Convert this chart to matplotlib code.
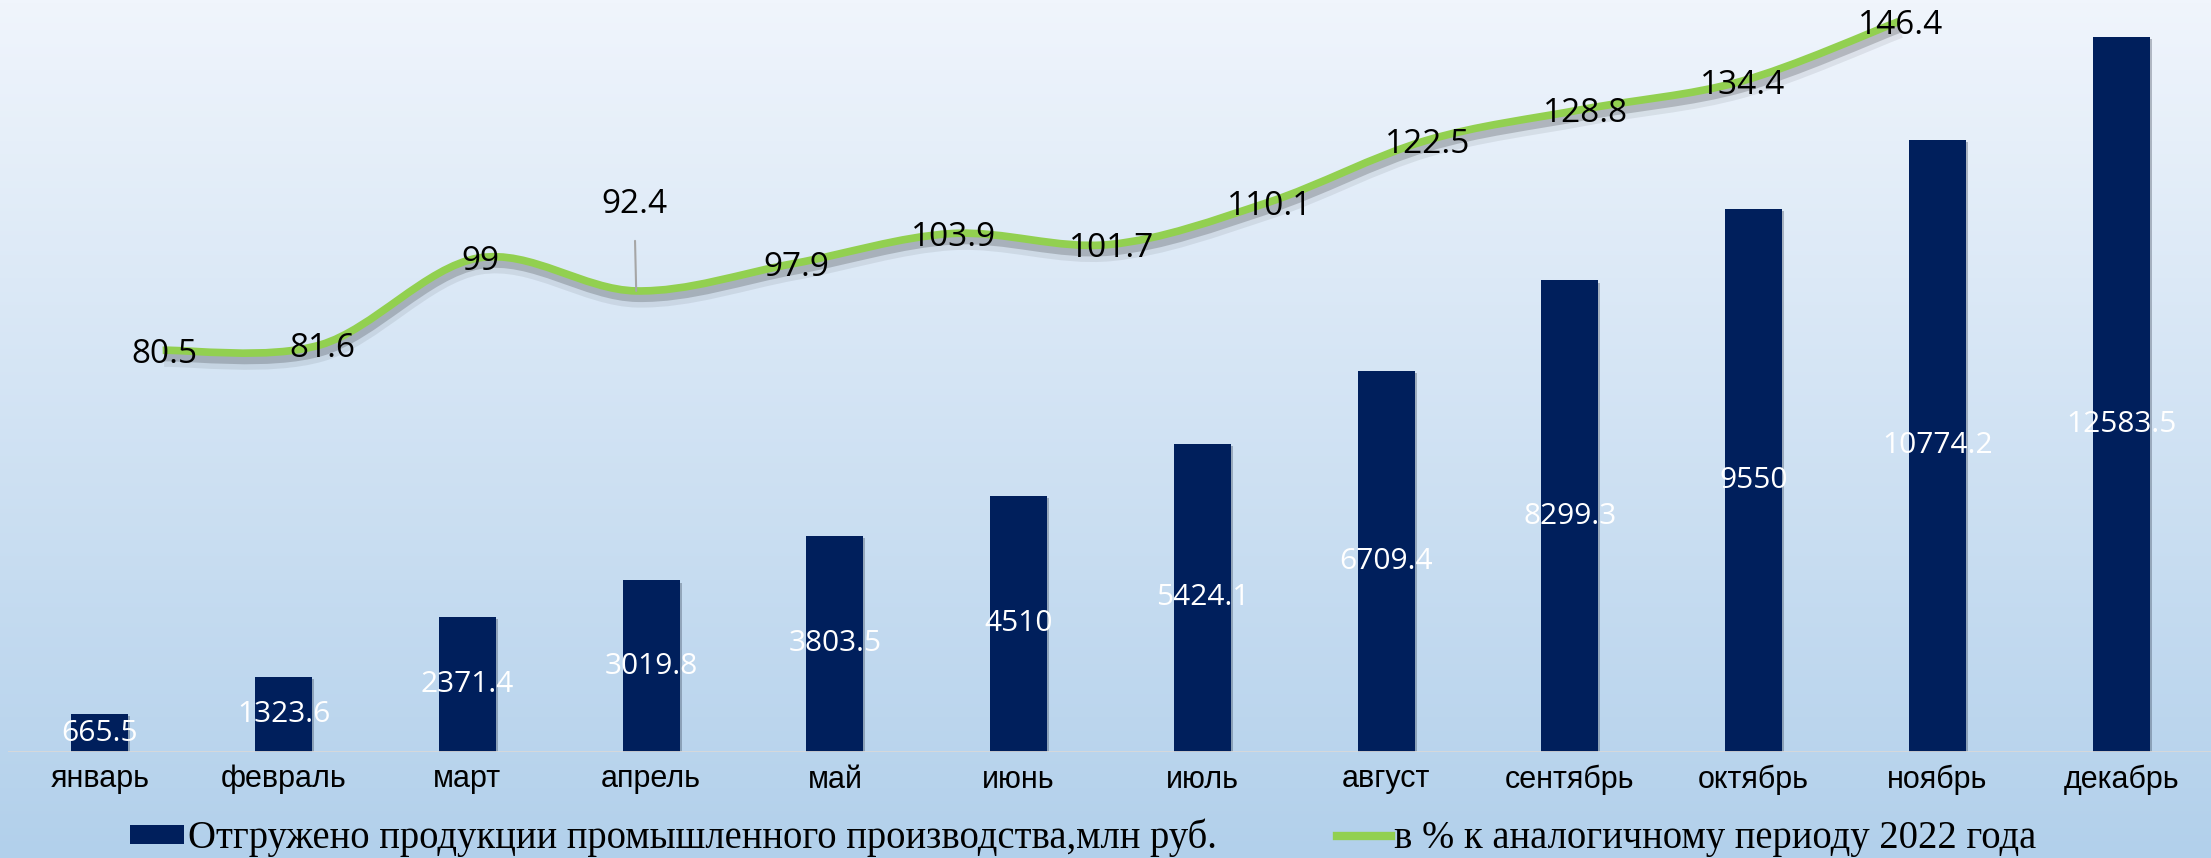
import numpy as np
import matplotlib
matplotlib.use("Agg")
import matplotlib.pyplot as plt
from matplotlib.path import Path
from matplotlib.patches import PathPatch, Patch
from matplotlib.lines import Line2D
import matplotlib.patheffects as pe
from matplotlib import font_manager

months = ["январь", "февраль", "март", "апрель", "май", "июнь",
          "июль", "август", "сентябрь", "октябрь", "ноябрь", "декабрь"]
shipped = [665.5, 1323.6, 2371.4, 3019.8, 3803.5, 4510,
           5424.1, 6709.4, 8299.3, 9550, 10774.2, 12583.5]
shipped_labels = ["665.5", "1323.6", "2371.4", "3019.8", "3803.5", "4510",
                  "5424.1", "6709.4", "8299.3", "9550", "10774.2", "12583.5"]
percent = [80.5, 81.6, 99, 92.4, 97.9, 103.9, 101.7, 110.1, 122.5, 128.8, 134.4, 146.4]
percent_labels = ["80.5", "81.6", "99", "92.4", "97.9", "103.9", "101.7",
                  "110.1", "122.5", "128.8", "134.4", "146.4"]

legend_bar = "Отгружено продукции промышленного производства,млн руб."
legend_line = "в % к аналогичному периоду 2022 года"

navy = "#001f5c"
green = "#92d050"

names = {f.name for f in font_manager.fontManager.ttflist}
narrow = "Liberation Sans Narrow" if "Liberation Sans Narrow" in names else "Liberation Sans"

W, H = 2211, 858
fig = plt.figure(figsize=(W / 100, H / 100), dpi=100)

# background gradient
bg = fig.add_axes([0, 0, 1, 1], zorder=-10)
grad = np.linspace(0, 1, 256).reshape(-1, 1)
top = np.array([240, 245, 252]) / 255
bot = np.array([178, 208, 235]) / 255
img = top + (bot - top) * grad[:, :, None]
bg.imshow(img, aspect="auto", extent=[0, 1, 0, 1])
bg.axis("off")

rect = [8 / W, 1 - 752 / H, 2205 / W, 752 / H]
ax = fig.add_axes(rect)
ax.patch.set_alpha(0)
x = np.arange(len(months))
bars = ax.bar(x, shipped, width=0.31, color=navy, zorder=2,
              path_effects=[pe.SimplePatchShadow(offset=(1.5, -1.5), alpha=0.25), pe.Normal()])
ax.set_xlim(-0.5, 11.5)
ax.set_ylim(0, 13235)
ax.axhline(0, color="#d9d9d9", lw=2, zorder=3)
for s in ax.spines.values():
    s.set_visible(False)
ax.set_yticks([])
ax.set_xticks(x)
ax.set_xticklabels(months, fontsize=22, family=narrow)
ax.tick_params(axis="x", length=0, pad=9)

for i, (v, t) in enumerate(zip(shipped, shipped_labels)):
    dy = -30 if i == 11 else 0
    ax.annotate(t, (i, v / 2), xytext=(0, dy), textcoords="offset pixels",
                ha="center", va="center", color="white", fontsize=21.5,
                family="Open Sans", zorder=4)

# line on its own axes (secondary category axis)
ax2 = fig.add_axes(rect)
ax2.patch.set_alpha(0)
ax2.axis("off")
ax2.set_xlim(-0.98, 12.99)
ax2.set_ylim(0, 150.7)

px = np.arange(len(percent), dtype=float)
py = np.array(percent, dtype=float)
pts = np.column_stack([px, py])
ext = np.vstack([pts[0], pts, pts[-1]])
verts = [tuple(pts[0])]
codes = [Path.MOVETO]
for i in range(len(pts) - 1):
    p0, p1, p2, p3 = ext[i], ext[i + 1], ext[i + 2], ext[i + 3]
    c1 = p1 + (p2 - p0) / 6
    c2 = p2 - (p3 - p1) / 6
    verts += [tuple(c1), tuple(c2), tuple(p2)]
    codes += [Path.CURVE4] * 3
curve = PathPatch(Path(verts, codes), fill=False, edgecolor=green, lw=5.5,
                  capstyle="butt", zorder=5,
                  path_effects=[pe.Stroke(linewidth=10, foreground="#000000", alpha=0.07, offset=(1, -7)),
                                pe.Stroke(linewidth=6, foreground="#000000", alpha=0.18, offset=(1, -5)),
                                pe.Normal()])
ax2.add_patch(curve)

for i, (v, t) in enumerate(zip(percent, percent_labels)):
    if i == 3:
        ax2.annotate(t, (i, v), xytext=(-2, 86), textcoords="offset pixels",
                     ha="center", va="center", fontsize=24, family="Open Sans",
                     arrowprops=dict(arrowstyle="-", color="#a6a6a6", lw=1.5,
                                     shrinkA=12, shrinkB=0), zorder=6)
    else:
        ax2.annotate(t, (i, v), xytext=(2, -4), textcoords="offset pixels",
                     ha="center", va="center", fontsize=24, family="Open Sans", zorder=6)

handles = [Patch(facecolor=navy, edgecolor="none"),
           Line2D([], [], color=green, lw=6)]
leg = fig.legend(handles, [legend_bar, legend_line], loc="center",
                 bbox_to_anchor=(0.49, 1 - 838 / H), ncol=2, frameon=False,
                 prop={"family": "Liberation Serif", "size": 27.8},
                 handlelength=1.4, handleheight=0.4, handletextpad=0.1,
                 columnspacing=3.1, borderpad=0)

fig.savefig("out.png", dpi=100)
